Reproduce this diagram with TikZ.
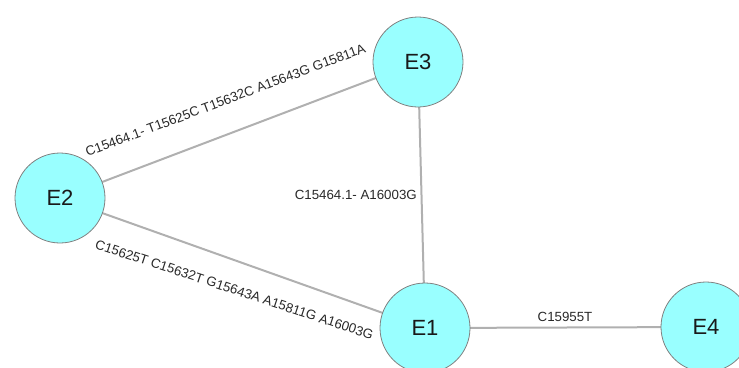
\documentclass[tikz,border=0pt]{standalone}
\usepackage{fontspec}
\setmainfont{Liberation Sans}
\definecolor{nodefill}{RGB}{153,255,255}
\definecolor{nodeedge}{RGB}{128,128,128}
\definecolor{edgecol}{RGB}{176,176,176}
\definecolor{txt}{RGB}{40,40,40}
\definecolor{ntxt}{RGB}{25,25,25}
\begin{document}
\begin{tikzpicture}[x=1pt,y=-1pt,
  vert/.style={circle,draw=nodeedge,line width=0.8pt,fill=nodefill,minimum size=90pt,inner sep=0pt,font=\fontsize{22}{24}\selectfont,text=ntxt},
  conn/.style={draw=edgecol,line width=2pt},
  elabel/.style={font=\fontsize{13.3}{15}\selectfont,text=txt,inner sep=0pt}]
\useasboundingbox (0,0) rectangle (739,367);
\draw[conn] (60,198) coordinate (c2) -- (418,62) coordinate (c3);
\draw[conn] (c2) -- (425,328) coordinate (c1);
\draw[conn] (c3) -- (c1);
\draw[conn] (c1) -- (706,327) coordinate (c4);
\node[vert] (E2) at (c2) {E2};
\node[vert] (E3) at (c3) {E3};
\node[vert] (E1) at (c1) {E1};
\node[vert] (E4) at (c4) {E4};
\node[elabel,anchor=base,rotate=20.6] (l23) at (227,104.5) {C15464.1- T15625C T15632C A15643G G15811A};
\node[elabel,anchor=base,rotate=-18.2] (l21) at (233,294) {C15625T C15632T G15643A A15811G A16003G};
\node[elabel,anchor=east] (l31) at (417,195) {C15464.1- A16003G};
\node[elabel] (l14) at (565,317) {C15955T};
\end{tikzpicture}
\end{document}
